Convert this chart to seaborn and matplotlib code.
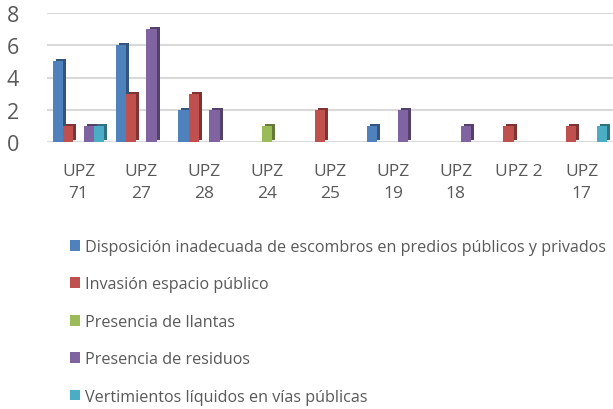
import matplotlib
matplotlib.use("Agg")
import matplotlib.pyplot as plt
import matplotlib.patheffects as pe
import seaborn as sns
import pandas as pd
import numpy as np
from matplotlib.patches import Patch

categories = ["UPZ\n71", "UPZ\n27", "UPZ\n28", "UPZ\n24", "UPZ\n25", "UPZ\n19", "UPZ\n18", "UPZ 2", "UPZ\n17"]
series = [
    "Disposición inadecuada de escombros en predios públicos y privados",
    "Invasión espacio público",
    "Presencia de llantas",
    "Presencia de residuos",
    "Vertimientos líquidos en vías públicas",
]
disposicion = [5, 6, 2, 0, 0, 1, 0, 0, 0]
invasion = [1, 3, 3, 0, 2, 0, 0, 1, 1]
llantas = [0, 0, 0, 1, 0, 0, 0, 0, 0]
residuos = [1, 7, 2, 0, 0, 2, 1, 0, 0]
vertimientos = [1, 0, 0, 0, 0, 0, 0, 0, 1]
colors = ["#4f81bd", "#c0504d", "#9bbb59", "#8064a2", "#4bacc6"]
yticks = [0, 2, 4, 6, 8]

values = [disposicion, invasion, llantas, residuos, vertimientos]
rows = []
for s, vals in zip(series, values):
    for c, v in zip(categories, vals):
        rows.append({"cat": c, "serie": s, "val": v})
df = pd.DataFrame(rows)

sns.set_style("white")
plt.rcParams["font.family"] = ["Open Sans", "DejaVu Sans"]
text_color = "#595959"

fig = plt.figure(figsize=(6.13, 4.10), dpi=100)
ax = fig.add_axes([47 / 613, 1 - 143 / 410, 1 - 47 / 613, (143 - 14) / 410])

palette = dict(zip(series, colors))
sns.barplot(data=df, x="cat", y="val", hue="serie", palette=palette,
            order=categories, hue_order=series, width=0.82, ax=ax,
            legend=False, saturation=1)

def darker(c, f=0.65):
    r, g, b = matplotlib.colors.to_rgb(c)
    return (r * f, g * f, b * f)

for cont, col in zip(ax.containers, colors):
    for bar in cont:
        if bar.get_height() <= 0:
            bar.set_visible(False)
            continue
        bar.set_linewidth(0)
        bar.set_path_effects([
            pe.SimplePatchShadow(offset=(2.2, 1.5), shadow_rgbFace=darker(col), alpha=1),
            pe.Normal(),
        ])

ax.set_ylim(0, 8)
ax.set_xlim(-0.5, len(categories) - 0.5)
ax.set_yticks(yticks)
ax.set_yticklabels([str(t) for t in yticks], fontsize=15.5, color=text_color)
ax.grid(axis="y", color="#d9d9d9", linewidth=1.5)
ax.set_axisbelow(True)
for sp in ax.spines.values():
    sp.set_visible(False)
ax.tick_params(axis="both", length=0)
ax.tick_params(axis="y", pad=20)
ax.tick_params(axis="x", pad=15)
ax.set_xticklabels(categories, fontsize=12.5, color=text_color, linespacing=1.5)
ax.set_xlabel("")
ax.set_ylabel("")

handles = [Patch(facecolor=c, edgecolor="none") for c in colors]
leg = fig.legend(handles, series, loc="upper left", bbox_to_anchor=(70 / 613, 1 - 240 / 410),
                 frameon=False, fontsize=11.6, handlelength=0.65, handleheight=0.65,
                 handletextpad=0.3, labelspacing=1.33, borderaxespad=0, borderpad=0)
for t in leg.get_texts():
    t.set_color(text_color)

fig.savefig("out.png", dpi=100)
